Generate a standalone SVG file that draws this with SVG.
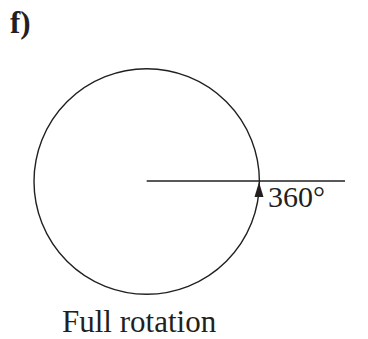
<svg xmlns="http://www.w3.org/2000/svg" width="368" height="339" viewBox="0 0 368 339">
<style>
.t{font-family:"Liberation Serif","Times New Roman",serif;fill:#231f20}
.ln{fill:none;stroke:#231f20;stroke-width:1.4}
</style>
<rect width="368" height="339" fill="#fff"/>
<g id="label-f"><text class="t" x="10" y="33" font-size="31" font-weight="bold">f)</text></g>
<g id="connectors">
<circle class="ln" cx="146.7" cy="181.5" r="112.7"/>
<line class="ln" x1="146.7" y1="181" x2="345" y2="181"/>
<polygon points="259,182 254.5,197 263.5,197" fill="#231f20"/>
</g>
<g id="angle"><text class="t" x="268" y="207" font-size="30">360°</text></g>
<g id="caption"><text class="t" x="62" y="332" font-size="31">Full rotation</text></g>
</svg>
